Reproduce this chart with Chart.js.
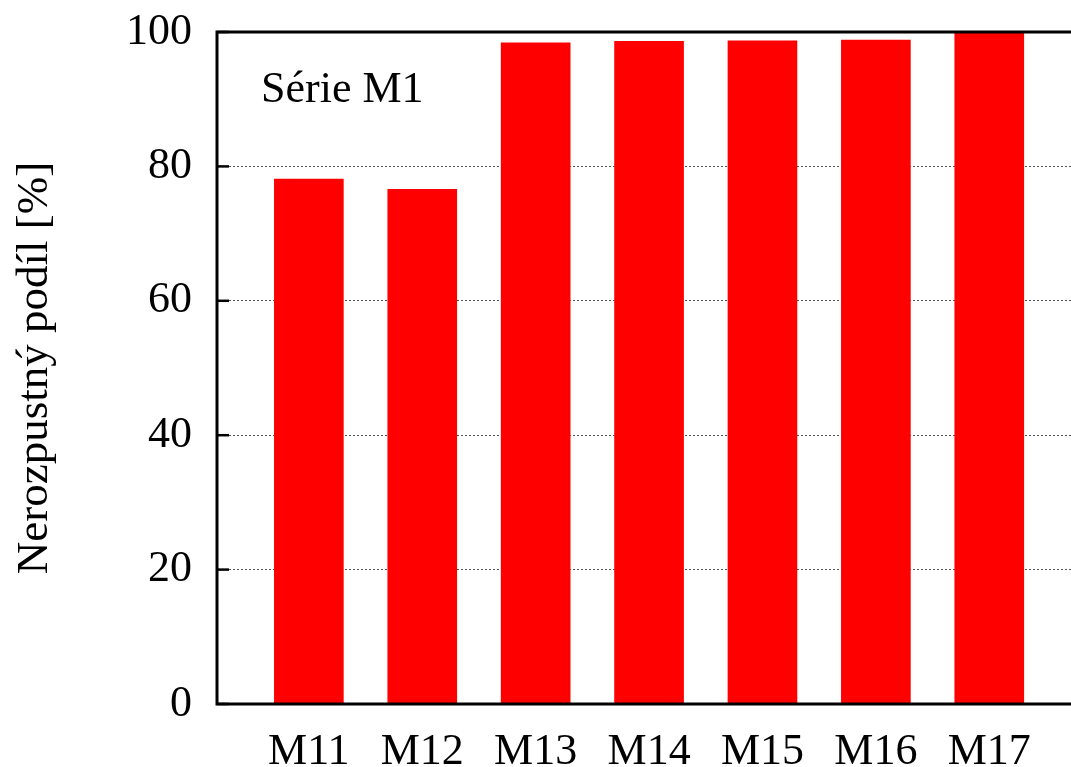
<!DOCTYPE html>
<html>
<head>
<meta charset="utf-8">
<script src="https://cdn.jsdelivr.net/npm/chart.js@4"></script>
<style>
  html, body { margin: 0; padding: 0; background: #fff; overflow: hidden; }
  #wrap { width: 1092px; height: 767px; position: relative; }
</style>
</head>
<body>
<div id="wrap"><canvas id="c"></canvas></div>
<script>
// Insoluble share per sample of series M1
const categories = ['M11', 'M12', 'M13', 'M14', 'M15', 'M16', 'M17'];
const insolubleShare = [78.1, 76.6, 98.4, 98.6, 98.7, 98.8, 100];
const yTicks = [0, 20, 40, 60, 80, 100];
const seriesLabel = 'Série M1';
const axisTitle = 'Nerozpustný podíl [%]';

const FONT = '"Liberation Serif", "Times New Roman", serif';

// Bars sit on a numeric x axis so the plot can start before the first sample
const points = categories.map((c, i) => ({ x: i, y: insolubleShare[i] }));

// Black frame, inward tick marks and the series caption
const framePlugin = {
  id: 'frame',
  afterDatasetsDraw(chart) {
    const { ctx, chartArea: a, scales } = chart;
    ctx.save();
    ctx.strokeStyle = '#000';
    ctx.lineWidth = 2.5;
    yTicks.forEach(v => {
      const y = scales.y.getPixelForValue(v);
      ctx.beginPath();
      ctx.moveTo(a.left, y);
      ctx.lineTo(a.left + 12, y);
      ctx.stroke();
    });
    ctx.lineWidth = 3;
    ctx.strokeRect(a.left, a.top, a.right - a.left, a.bottom - a.top);
    ctx.fillStyle = '#000';
    ctx.font = '44px ' + FONT;
    ctx.textBaseline = 'alphabetic';
    ctx.textAlign = 'left';
    ctx.fillText(seriesLabel, a.left + 44, a.top + 70);
    ctx.restore();
  }
};

new Chart(document.getElementById('c'), {
  type: 'bar',
  data: {
    datasets: [{
      data: points,
      backgroundColor: '#ff0000',
      borderWidth: 0,
      barThickness: 69
    }]
  },
  options: {
    responsive: true,
    maintainAspectRatio: false,
    animation: false,
    layout: { padding: { top: 32, right: 12, bottom: 0, left: 0 } },
    plugins: { legend: { display: false }, tooltip: { enabled: false } },
    scales: {
      x: {
        type: 'linear',
        offset: false,
        min: -0.81,
        max: 6.8,
        grid: { display: false, drawTicks: false },
        border: { display: false },
        ticks: {
          stepSize: 1,
          includeBounds: false,
          autoSkip: false,
          maxRotation: 0,
          padding: 22,
          color: '#000',
          font: { family: FONT, size: 44 },
          callback: v => (Number.isInteger(v) && categories[v]) ? categories[v] : ''
        },
        afterFit: s => { s.height = 63; }
      },
      y: {
        min: 0,
        max: 100,
        afterBuildTicks: s => { s.ticks = yTicks.map(v => ({ value: v })); },
        grid: {
          drawTicks: false,
          lineWidth: 1,
          color: c => (c.tick && (c.tick.value === 0 || c.tick.value === 100)) ? 'rgba(0,0,0,0)' : '#555'
        },
        border: { display: false, dash: [2, 2] },
        ticks: {
          padding: 25,
          color: '#000',
          font: { family: FONT, size: 44 }
        },
        title: {
          display: true,
          text: axisTitle,
          color: '#000',
          font: { family: FONT, size: 45 },
          padding: { top: 8, bottom: 0 }
        },
        afterFit: s => { s.width = 217; s.paddingTop = 0; s.paddingBottom = 0; }
      }
    }
  },
  plugins: [framePlugin]
});
</script>
</body>
</html>
